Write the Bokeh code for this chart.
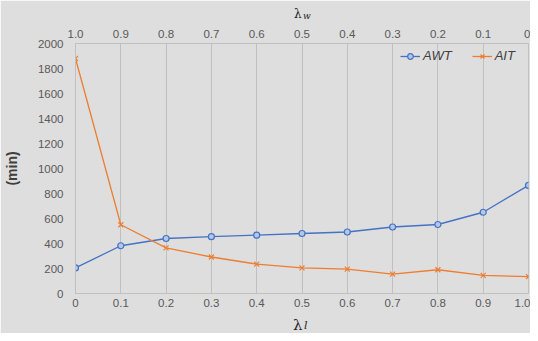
from bokeh.plotting import figure
from bokeh.models import (Range1d, LinearAxis, FixedTicker, Legend, LegendItem, ColumnDataSource)
from bokeh.core.properties import value
from bokeh.embed import file_html
from bokeh.resources import INLINE

lambda_l = [0.0, 0.1, 0.2, 0.3, 0.4, 0.5, 0.6, 0.7, 0.8, 0.9, 1.0]
awt = [205, 382, 440, 455, 467, 480, 492, 532, 552, 650, 865]
ait = [1880, 550, 365, 292, 235, 205, 195, 155, 190, 145, 135]
bottom_tick_labels = ["0", "0.1", "0.2", "0.3", "0.4", "0.5", "0.6", "0.7", "0.8", "0.9", "1.0"]
top_tick_labels = ["1.0", "0.9", "0.8", "0.7", "0.6", "0.5", "0.4", "0.3", "0.2", "0.1", "0"]
y_ticks = list(range(0, 2001, 200))

BG = "#DEDEDE"
GRID = "#C0C0C0"
TXT = "#595959"
BLUE = "#4472C4"
ORANGE = "#ED7D31"

p = figure(width=530, height=333, output_backend="svg", toolbar_location=None,
           x_range=Range1d(0, 1.0), y_range=Range1d(0, 2000),
           min_border_left=69, min_border_right=2, min_border_top=43, min_border_bottom=40,
           background_fill_color=BG, border_fill_color=BG)
p.outline_line_color = GRID
p.ygrid.grid_line_color = None
p.xgrid.grid_line_color = GRID
p.xgrid.ticker = FixedTicker(ticks=lambda_l)

xa = p.xaxis[0]
xa.ticker = FixedTicker(ticks=lambda_l)
xa.major_label_overrides = {v: s for v, s in zip(lambda_l, bottom_tick_labels)}
ya = p.yaxis[0]
ya.ticker = FixedTicker(ticks=y_ticks)
ya.axis_label = "(min)"
ya.axis_label_text_font_style = "bold"
ya.axis_label_text_font_size = "14px"
ya.axis_label_text_font = "Liberation Sans"
ya.axis_label_text_color = "#404040"
ya.axis_label_standoff = 15

p.extra_x_ranges = {"w": Range1d(1.0, 0.0)}
top = LinearAxis(x_range_name="w")
top_vals = [round(1.0 - v, 1) for v in lambda_l]
top.ticker = FixedTicker(ticks=top_vals)
top.major_label_overrides = {t: s for t, s in zip(top_vals, top_tick_labels)}
p.add_layout(top, "above")

for ax in [xa, ya, top]:
    ax.axis_line_color = GRID
    ax.major_tick_line_color = None
    ax.minor_tick_line_color = None
    ax.major_tick_out = 0
    ax.major_tick_in = 0
    ax.minor_tick_out = 0
    ax.minor_tick_in = 0
    ax.major_label_text_font = "Liberation Sans"
    ax.major_label_text_font_size = "11.5px"
    ax.major_label_text_color = TXT
xa.major_label_standoff = 5
ya.major_label_standoff = 12
top.major_label_standoff = 6

l1 = p.line(lambda_l, awt, line_color=BLUE, line_width=1.3)
s1 = p.scatter(lambda_l, awt, marker="circle", size=6, line_color=BLUE, fill_color="#B4C7E7", line_width=1.2)
l2 = p.line(lambda_l, ait, line_color=ORANGE, line_width=1.3)
s2 = p.scatter(lambda_l, ait, marker="x", size=7, line_color=ORANGE, line_width=1.2)

legend = Legend(items=[LegendItem(label="AWT", renderers=[l1, s1]),
                       LegendItem(label="AIT", renderers=[l2, s2])],
                orientation="horizontal", location=(325, 230),
                background_fill_alpha=0, border_line_color=None,
                padding=0, margin=0, spacing=20, label_standoff=3,
                glyph_width=20, glyph_height=14, label_height=14,
                label_text_font="Liberation Sans", label_text_font_style="italic",
                label_text_font_size="13px", label_text_color="#404040")
p.add_layout(legend, "center")

# axis titles: lambda with subscripts, drawn unclipped at overlay level
lam_font = value("DejaVu Serif")
def title_text(xv, yv, txt, size, style, dx, dy):
    src = ColumnDataSource(dict(x=[xv], y=[yv], t=[txt]))
    p.text(x="x", y="y", text="t", source=src, x_offset=dx, y_offset=dy,
           text_font=lam_font, text_font_size=value(size), text_font_style=style,
           text_color="#262626", text_baseline="alphabetic", text_align="left",
           level="overlay")

title_text(0.5, 2000, "λ", "12px", "normal", -8, -30)
title_text(0.5, 2000, "w", "9px", "italic", 1, -28)
title_text(0.5, 0, "λ", "15px", "normal", -9, 31)
title_text(0.5, 0, "l", "11px", "italic", 2, 32)

open("out.html", "w").write(file_html(p, INLINE))
